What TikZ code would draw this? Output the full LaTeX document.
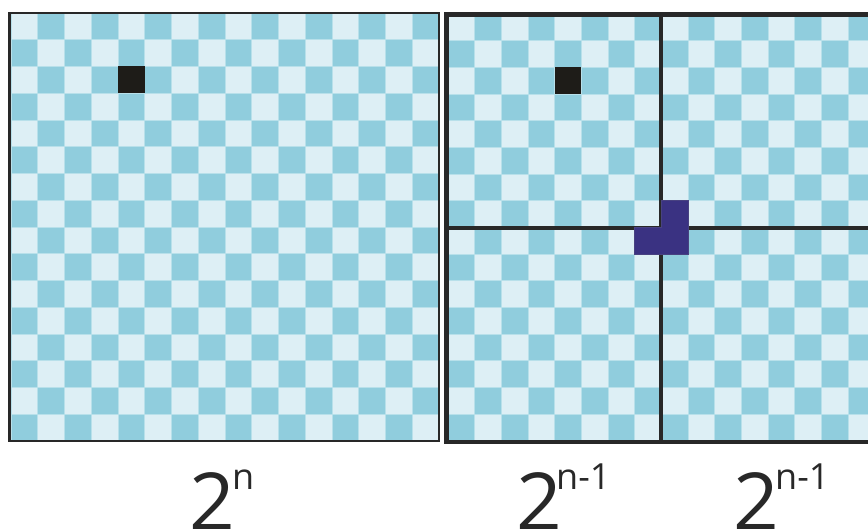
\documentclass[tikz,border=0pt]{standalone}
\usepackage{fontspec}
\setmainfont{Open Sans}
\definecolor{lightc}{RGB}{221,239,245}
\definecolor{darkc}{RGB}{144,205,221}
\definecolor{gridc}{RGB}{184,224,234}
\definecolor{blackc}{RGB}{30,28,24}
\definecolor{borderc}{RGB}{40,40,40}
\definecolor{purplec}{RGB}{58,50,130}
\tikzset{
  lightcell/.style={fill=lightc, draw=gridc, line width=0.6pt},
  darkcell/.style={fill=darkc, draw=gridc, line width=0.6pt},
  blackcell/.style={fill=blackc},
  tromino/.style={fill=purplec, draw=purplec!80!gray, line width=0.6pt},
  thinframe/.style={draw=borderc, line width=2.5pt},
  thickframe/.style={draw=borderc, line width=4.5pt},
  bigtxt/.style={inner sep=0pt, font=\fontsize{80}{80}\selectfont, text=borderc},
  suptxt/.style={inner sep=0pt, font=\fontsize{36}{36}\selectfont, text=borderc}
}
\begin{document}
\begin{tikzpicture}[x=1pt,y=-1pt]
\useasboundingbox (0,0) rectangle (868,529);
\clip (0,0) rectangle (868,529);
\fill[white] (0,0) rectangle (868,529);
% left board
\def\cs{26.75}
\foreach \i in {0,...,15}{
  \foreach \j in {0,...,15}{
    \pgfmathtruncatemacro{\p}{mod(\i+\j,2)}
    \ifnum\p=0
      \path[lightcell] ({11+\i*\cs},{13+\j*\cs}) rectangle +(\cs,\cs);
    \else
      \path[darkcell] ({11+\i*\cs},{13+\j*\cs}) rectangle +(\cs,\cs);
    \fi
  }
}
\path[blackcell] ({11+4*\cs},{13+2*\cs}) rectangle +(\cs,\cs);
\path[thinframe] (9.5,13) rectangle (439,441);
% right board
\def\cr{26.67}
\foreach \i in {0,...,15}{
  \foreach \j in {0,...,15}{
    \pgfmathtruncatemacro{\p}{mod(\i+\j,2)}
    \ifnum\p=0
      \path[lightcell] ({448+\i*\cr},{14+\j*\cr}) rectangle +(\cr,\cr);
    \else
      \path[darkcell] ({448+\i*\cr},{14+\j*\cr}) rectangle +(\cr,\cr);
    \fi
  }
}
\path[blackcell] ({448+4*\cr},{14+2*\cr}) rectangle +(\cr,\cr);
\path[thickframe] (446.7,14.3) rectangle (877,442);
\path[thickframe] (661,14.3) -- (661,442);
\path[thickframe] (446.7,228) -- (877,228);
\path[tromino] ({448+7*\cr},{14+8*\cr}) -- ({448+8*\cr},{14+8*\cr}) -- ({448+8*\cr},{14+7*\cr})
  -- ({448+9*\cr},{14+7*\cr}) -- ({448+9*\cr},{14+9*\cr}) -- ({448+7*\cr},{14+9*\cr}) -- cycle;
% labels
\node[bigtxt, anchor=base west] (b1) at (189,530) {2};
\node[suptxt, anchor=base west] (s1) at (232,489) {n};
\node[bigtxt, anchor=base west] (b2) at (516,530) {2};
\node[suptxt, anchor=base west] (s2) at (556,489) {n-1};
\node[bigtxt, anchor=base west] (b3) at (733,530) {2};
\node[suptxt, anchor=base west] (s3) at (775,489) {n-1};
\end{tikzpicture}
\end{document}
